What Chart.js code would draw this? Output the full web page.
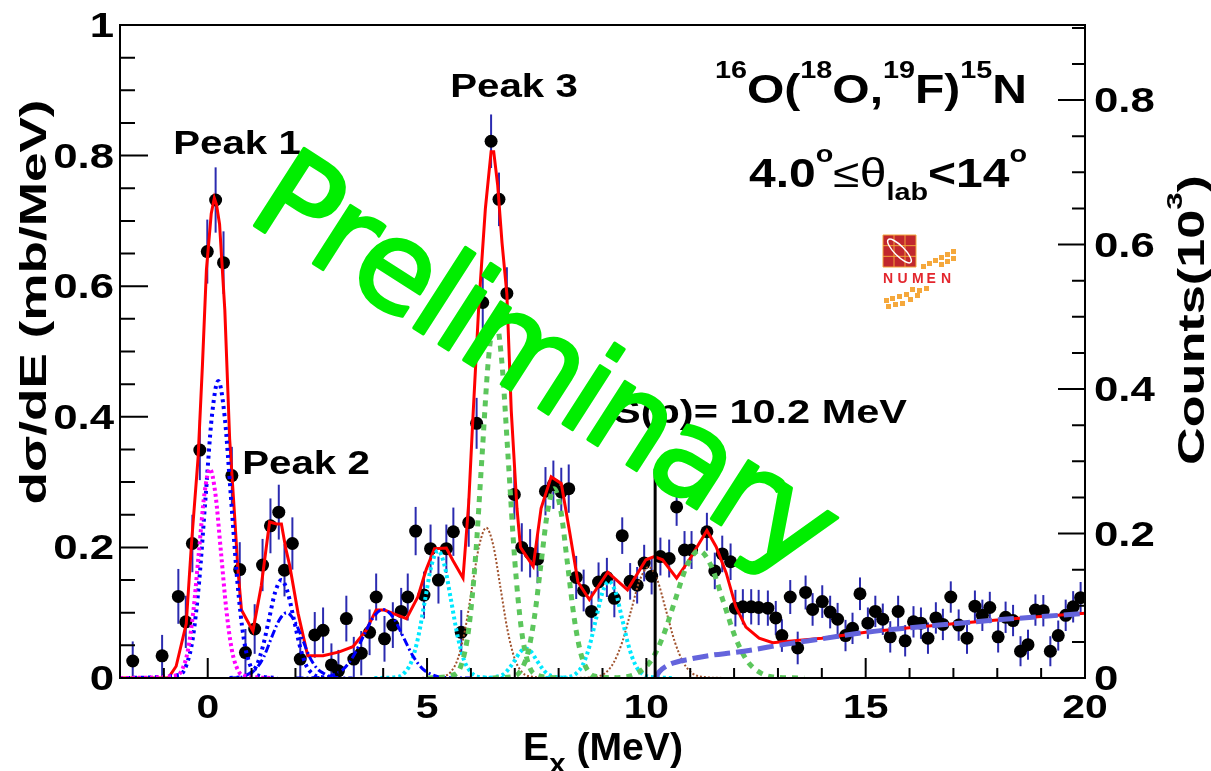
<!DOCTYPE html>
<html>
<head>
<meta charset="utf-8">
<script src="https://cdn.jsdelivr.net/npm/chart.js@4/dist/chart.umd.min.js"></script>
<style>
  html, body { margin: 0; padding: 0; background: #fff; }
  canvas { display: block; }
</style>
</head>
<body>
<canvas id="spectrum" width="1211" height="771"></canvas>
<script>
// ===================================================
// 16O(18O,19F)15N  –  EXCITATION ENERGY SPECTRUM
// ===================================================

// ── Data points (Ex in MeV, dσ/dE in mb/MeV, error) ─
const dataE = [
  -1.71, -1.04, -0.67, -0.50, -0.35, -0.18, -0.01, 0.18, 0.36, 0.55,
  0.73, 0.86, 1.07, 1.25, 1.43, 1.62, 1.75, 1.93, 2.11, 2.44,
  2.63, 2.82, 2.98, 3.16, 3.33, 3.50, 3.69, 3.84, 4.03, 4.22,
  4.41, 4.56, 4.74, 4.93, 5.08, 5.26, 5.44, 5.60, 5.78, 5.95,
  6.13, 6.27, 6.46, 6.64, 6.82, 6.99, 7.16, 7.35, 7.52, 7.70,
  7.88, 8.06, 8.23, 8.40, 8.57, 8.75, 8.91, 9.10, 9.27, 9.45,
  9.63, 9.79, 9.95, 10.12, 10.32, 10.52, 10.69, 10.87, 11.03, 11.38,
  11.56, 11.73, 11.92, 12.03, 12.20, 12.39, 12.56, 12.77, 12.95, 13.09,
  13.28, 13.45, 13.63, 13.79, 14.01, 14.19, 14.36, 14.54, 14.70, 14.87,
  15.05, 15.22, 15.39, 15.56, 15.74, 15.90, 16.09, 16.26, 16.42, 16.60,
  16.76, 16.94, 17.12, 17.31, 17.49, 17.66, 17.83, 18.02, 18.19, 18.36,
  18.53, 18.70, 18.87, 19.05, 19.21, 19.39, 19.56, 19.73, 19.90
];
const dataV = [
  0.026, 0.034, 0.125, 0.086, 0.206, 0.349, 0.653, 0.732, 0.636, 0.310,
  0.166, 0.039, 0.075, 0.173, 0.233, 0.254, 0.165, 0.206, 0.029, 0.066,
  0.073, 0.020, 0.011, 0.091, 0.029, 0.038, 0.070, 0.124, 0.060, 0.081,
  0.102, 0.124, 0.225, 0.127, 0.198, 0.150, 0.198, 0.224, 0.070, 0.238,
  0.390, 0.575, 0.822, 0.733, 0.589, 0.281, 0.200, 0.191, 0.182, 0.286,
  0.296, 0.285, 0.290, 0.154, 0.134, 0.102, 0.147, 0.154, 0.122, 0.218,
  0.148, 0.142, 0.176, 0.156, 0.186, 0.183, 0.262, 0.196, 0.196, 0.224,
  0.164, 0.190, 0.178, 0.107, 0.109, 0.109, 0.108, 0.107, 0.092, 0.065,
  0.124, 0.046, 0.131, 0.105, 0.117, 0.101, 0.090, 0.065, 0.076, 0.129,
  0.084, 0.102, 0.090, 0.063, 0.102, 0.057, 0.086, 0.084, 0.061, 0.092,
  0.082, 0.124, 0.081, 0.061, 0.110, 0.096, 0.108, 0.063, 0.093, 0.088,
  0.041, 0.051, 0.104, 0.103, 0.041, 0.065, 0.096, 0.109, 0.123
];
const dataErr = [
  0.030, 0.032, 0.042, 0.040, 0.044, 0.046, 0.049, 0.050, 0.048, 0.044,
  0.042, 0.036, 0.038, 0.040, 0.042, 0.042, 0.040, 0.040, 0.034, 0.035,
  0.035, 0.033, 0.032, 0.035, 0.034, 0.034, 0.035, 0.036, 0.035, 0.035,
  0.036, 0.036, 0.037, 0.036, 0.037, 0.036, 0.037, 0.037, 0.034, 0.037,
  0.039, 0.040, 0.041, 0.041, 0.040, 0.038, 0.037, 0.037, 0.037, 0.037,
  0.037, 0.037, 0.037, 0.033, 0.032, 0.031, 0.030, 0.030, 0.029, 0.028,
  0.028, 0.028, 0.028, 0.028, 0.029, 0.029, 0.029, 0.029, 0.029, 0.029,
  0.028, 0.028, 0.028, 0.028, 0.027, 0.027, 0.027, 0.027, 0.026, 0.025,
  0.026, 0.025, 0.026, 0.025, 0.025, 0.025, 0.025, 0.024, 0.024, 0.025,
  0.024, 0.024, 0.024, 0.024, 0.024, 0.024, 0.024, 0.024, 0.024, 0.024,
  0.024, 0.024, 0.024, 0.024, 0.024, 0.024, 0.024, 0.024, 0.024, 0.024,
  0.023, 0.023, 0.024, 0.024, 0.023, 0.023, 0.024, 0.024, 0.024
];

// ── Total fit (red) ───────────────────────────────
const fitE = [
  -2, -0.9, -0.72, -0.49, -0.37, -0.22, -0.12, -0.03, 0.08, 0.15,
  0.20, 0.27, 0.39, 0.50, 0.61, 0.69, 0.77, 1.03, 1.22, 1.41,
  1.57, 1.68, 1.78, 1.87, 2.06, 2.28, 2.63, 3.00, 3.31, 3.61,
  3.84, 4.03, 4.22, 4.53, 4.79, 4.98, 5.17, 5.44, 5.59, 5.82,
  5.95, 6.04, 6.18, 6.33, 6.46, 6.52, 6.61, 6.71, 6.82, 6.92,
  7.05, 7.13, 7.42, 7.60, 7.83, 8.06, 8.25, 8.44, 8.70, 9.12,
  9.57, 9.99, 10.18, 10.37, 10.69, 10.98, 11.38, 11.59, 11.82, 12.04,
  12.27, 12.57, 12.88, 13.5, 14, 15, 16, 17, 18, 19, 20
];
const fitV = [
  0, 0, 0.018, 0.083, 0.206, 0.337, 0.480, 0.625, 0.711, 0.735,
  0.725, 0.695, 0.563, 0.366, 0.251, 0.165, 0.104, 0.072, 0.141, 0.239,
  0.236, 0.236, 0.198, 0.172, 0.099, 0.034, 0.034, 0.040, 0.048, 0.073,
  0.104, 0.104, 0.099, 0.091, 0.124, 0.166, 0.198, 0.199, 0.180, 0.153,
  0.268, 0.391, 0.571, 0.719, 0.806, 0.806, 0.755, 0.666, 0.588, 0.409,
  0.260, 0.200, 0.171, 0.260, 0.308, 0.298, 0.224, 0.147, 0.120, 0.162,
  0.135, 0.181, 0.186, 0.181, 0.153, 0.181, 0.226, 0.201, 0.161, 0.109,
  0.078, 0.061, 0.054, 0.058, 0.061, 0.070, 0.077, 0.083, 0.089, 0.094, 0.099
];

// ── Fit components ────────────────────────────────
const magE   = [-2, -0.7, -0.575, -0.45, -0.325, -0.2, -0.075, 0.05, 0.175, 0.3, 0.425, 0.55, 0.675, 0.8, 1.5];
const magV   = [0, 0.004, 0.014, 0.043, 0.104, 0.194, 0.282, 0.32, 0.282, 0.194, 0.104, 0.043, 0.014, 0.004, 0];
const blueAE = [-2, -0.63, -0.485, -0.34, -0.195, -0.05, 0.095, 0.24, 0.385, 0.53, 0.675, 0.82, 0.965, 1.11, 1.6];
const blueAV = [0, 0.005, 0.020, 0.061, 0.148, 0.276, 0.401, 0.455, 0.401, 0.276, 0.148, 0.061, 0.020, 0.005, 0];
const blueBE = [0.5, 0.84, 0.98, 1.12, 1.26, 1.40, 1.54, 1.68, 1.82, 1.96, 2.10, 2.24, 2.38, 2.52, 3.0];
const blueBV = [0, 0.002, 0.007, 0.020, 0.049, 0.091, 0.132, 0.15, 0.132, 0.091, 0.049, 0.020, 0.007, 0.002, 0];
const blueCE = [0.5, 0.75, 0.925, 1.1, 1.275, 1.45, 1.625, 1.8, 1.975, 2.15, 2.325, 2.5, 2.675, 2.85, 3.3];
const blueCV = [0, 0.001, 0.006, 0.014, 0.032, 0.061, 0.088, 0.1, 0.088, 0.061, 0.032, 0.014, 0.006, 0.001, 0];
const blueDE = [2.0, 2.65, 2.875, 3.1, 3.325, 3.55, 3.775, 4.0, 4.225, 4.45, 4.675, 4.9, 5.125, 5.35, 6.0];
const blueDV = [0, 0.001, 0.005, 0.014, 0.034, 0.064, 0.093, 0.105, 0.093, 0.064, 0.034, 0.014, 0.005, 0.001, 0];
const cyanAE = [3.8, 4.35, 4.5, 4.65, 4.8, 4.95, 5.1, 5.25, 5.4, 5.55, 5.7, 5.85, 6.0, 6.15, 6.8];
const cyanAV = [0, 0.002, 0.009, 0.026, 0.063, 0.118, 0.172, 0.195, 0.172, 0.118, 0.063, 0.026, 0.009, 0.002, 0];
const cyanBE = [6.3, 6.5, 6.75, 6.875, 7.0, 7.125, 7.25, 7.375, 7.5, 7.625, 7.75, 8.0, 8.2];
const cyanBV = [0, 0.001, 0.006, 0.015, 0.027, 0.040, 0.045, 0.040, 0.027, 0.015, 0.006, 0.001, 0];
const cyanCE = [7.7, 8.25, 8.4, 8.55, 8.7, 8.85, 9.0, 9.15, 9.3, 9.45, 9.6, 9.75, 9.9, 10.05, 10.6];
const cyanCV = [0, 0.002, 0.007, 0.020, 0.048, 0.090, 0.131, 0.148, 0.131, 0.090, 0.048, 0.020, 0.007, 0.002, 0];
const greenAE = [5.0, 5.65, 5.8, 5.95, 6.1, 6.25, 6.4, 6.55, 6.7, 6.85, 7.0, 7.15, 7.3, 7.45, 8.0];
const greenAV = [0, 0.006, 0.024, 0.075, 0.180, 0.336, 0.488, 0.553, 0.488, 0.336, 0.180, 0.075, 0.024, 0.006, 0];
const greenBE = [6.5, 7.0, 7.15, 7.3, 7.45, 7.6, 7.75, 7.9, 8.05, 8.2, 8.35, 8.5, 8.65, 8.8, 9.3];
const greenBV = [0, 0.003, 0.013, 0.039, 0.094, 0.176, 0.256, 0.29, 0.256, 0.176, 0.094, 0.039, 0.013, 0.003, 0];
const greenCE = [9.0, 9.55, 9.825, 10.1, 10.375, 10.65, 10.925, 11.2, 11.475, 11.75, 12.025, 12.3, 12.575, 12.85, 13.6];
const greenCV = [0, 0.002, 0.009, 0.026, 0.063, 0.118, 0.172, 0.195, 0.172, 0.118, 0.063, 0.026, 0.009, 0.002, 0];
const brownAE = [4.8, 5.39, 5.55, 5.71, 5.87, 6.03, 6.19, 6.35, 6.51, 6.67, 6.83, 6.99, 7.15, 7.31, 7.9];
const brownAV = [0, 0.003, 0.010, 0.031, 0.075, 0.140, 0.203, 0.23, 0.203, 0.140, 0.075, 0.031, 0.010, 0.003, 0];
const brownBE = [8.3, 8.85, 9.05, 9.25, 9.45, 9.65, 9.85, 10.05, 10.25, 10.45, 10.65, 10.85, 11.05, 11.25, 11.8];
const brownBV = [0, 0.002, 0.007, 0.023, 0.055, 0.103, 0.150, 0.17, 0.150, 0.103, 0.055, 0.023, 0.007, 0.002, 0];

// ── Three-body background above S(p) ──────────────
const bkgE = [10.2, 10.3, 10.5, 11, 11.5, 12, 12.5, 13, 14, 15, 16, 17, 18, 19, 20];
const bkgV = [0, 0.010, 0.020, 0.029, 0.035, 0.039, 0.044, 0.050, 0.060, 0.070, 0.077, 0.083, 0.089, 0.094, 0.099];

// ── Proton separation energy marker ───────────────
const spE = [10.2, 10.2];
const spV = [0, 0.32];

// ── Axes / ticks ──────────────────────────────────
const X_MIN = -2, X_MAX = 20;
const Y_MAX = 1;
const Y2_MAX = 0.904;              // counts (10^3) at the top of the frame
const xMajor = [0, 5, 10, 15, 20];
const xLabels = ['0', '5', '10', '15', '20'];
const yMajor = [0, 0.2, 0.4, 0.6, 0.8, 1];
const yLabels = ['0', '0.2', '0.4', '0.6', '0.8', '1'];
const y2Major = [0, 0.2, 0.4, 0.6, 0.8];
const y2Labels = ['0', '0.2', '0.4', '0.6', '0.8'];

const COLORS = {
  fit:     '#ff0000',
  magenta: '#ff00ff',
  blue:    '#0000ff',
  cyan:    '#00e8ff',
  green:   '#5cc65c',
  brown:   '#a0522d',
  bkg:     '#6464dc',
  err:     '#2b2bb0',
  prelim:  '#00ee00',
};
const FONT = '"Liberation Sans", Arial, Helvetica, sans-serif';

const pts = (xs, ys) => xs.map((x, i) => ({ x, y: ys[i] }));

function curve(label, xs, ys, color, width, dash, order, smooth) {
  return {
    label,
    data: pts(xs, ys),
    showLine: true,
    borderColor: color,
    backgroundColor: color,
    borderWidth: width,
    borderDash: dash,
    pointRadius: 0,
    fill: false,
    order,
    tension: smooth ? 0.4 : 0,
    cubicInterpolationMode: smooth ? 'monotone' : 'default',
  };
}

// ── Rich text helper (ROOT-like TLatex) ───────────
function richText(ctx, segs, x, y, size, opts) {
  const o = Object.assign({ align: 'left', sx: 1.22, rot: 0, fit: null }, opts || {});
  ctx.save();
  let w = 0;
  const items = segs.map(([t, k, f]) => {
    let fs = size, dy = 0, weight = 'bold ';
    if (k === 'sup') { fs = size * (f || 0.6); dy = -size * 0.62; }
    if (k === 'sub') { fs = size * (f || 0.6); dy = size * 0.33; }
    if (k === 'r') weight = '';
    const font = weight + fs + 'px ' + FONT;
    ctx.font = font;
    const it = { t, font, dy, off: w };
    w += ctx.measureText(t).width;
    return it;
  });
  const sx = o.fit ? o.fit / w : o.sx;
  const total = w * sx;
  const x0 = o.align === 'right' ? -total : o.align === 'center' ? -total / 2 : 0;
  ctx.translate(x, y);
  ctx.rotate(o.rot);
  ctx.translate(x0, 0);
  ctx.scale(sx, 1);
  ctx.fillStyle = '#000';
  ctx.textAlign = 'left';
  ctx.textBaseline = 'alphabetic';
  items.forEach(it => { ctx.font = it.font; ctx.fillText(it.t, it.off, it.dy); });
  ctx.restore();
}

// ── Error bars under the points ───────────────────
const errorBars = {
  id: 'errorBars',
  beforeDatasetsDraw(chart) {
    const { ctx, chartArea: a, scales: { x, y } } = chart;
    ctx.save();
    ctx.beginPath();
    ctx.rect(a.left, a.top, a.right - a.left, a.bottom - a.top);
    ctx.clip();
    ctx.strokeStyle = COLORS.err;
    ctx.lineWidth = 2;
    dataE.forEach((e, i) => {
      const px = x.getPixelForValue(e);
      ctx.beginPath();
      ctx.moveTo(px, y.getPixelForValue(Math.max(0, dataV[i] - dataErr[i])));
      ctx.lineTo(px, y.getPixelForValue(dataV[i] + dataErr[i]));
      ctx.stroke();
    });
    ctx.restore();
  }
};

// ── "Preliminary" watermark, drawn letter by letter ─
function drawPreliminary(ctx) {
  const word = 'Preliminary';
  const length = 665;                 // baseline length, px
  ctx.save();
  ctx.translate(244, 219);
  ctx.rotate(0.57);
  ctx.font = 'normal 400 126px "DejaVu Sans"';
  const widths = [...word].map(c => ctx.measureText(c).width);
  const natural = widths.reduce((s, v) => s + v, 0);
  const gap = (length - natural) / (word.length - 1);
  ctx.fillStyle = COLORS.prelim;
  ctx.strokeStyle = COLORS.prelim;
  ctx.lineWidth = 3;
  ctx.lineJoin = 'round';
  ctx.lineCap = 'round';
  let px = 0;
  [...word].forEach((c, i) => {
    ctx.strokeText(c, px, 0);
    ctx.fillText(c, px, 0);
    px += widths[i] + gap;
  });
  ctx.restore();
}

// ── ROOT style frame, inward ticks, labels ────────
const rootFrame = {
  id: 'rootFrame',
  afterDatasetsDraw(chart) {
    const { ctx, chartArea: a, scales: { x, y, y2 } } = chart;
    ctx.save();
    ctx.strokeStyle = '#000';
    ctx.lineWidth = 2;
    ctx.strokeRect(a.left, a.top, a.right - a.left, a.bottom - a.top);

    ctx.beginPath();
    // x ticks: every MeV, long at multiples of 5
    for (let v = X_MIN; v <= X_MAX; v += 1) {
      const px = x.getPixelForValue(v);
      const len = v % 5 === 0 ? 20 : 10;
      ctx.moveTo(px, a.bottom);
      ctx.lineTo(px, a.bottom - len);
    }
    // left y ticks: every 0.05, long every 0.2
    for (let i = 0; i <= 20; i++) {
      const py = y.getPixelForValue(i * 0.05);
      const len = i % 4 === 0 ? 28 : 15;
      ctx.moveTo(a.left, py);
      ctx.lineTo(a.left + len, py);
    }
    // right axis (counts): every 0.05, long every 0.2
    for (let i = 0; i * 0.05 <= Y2_MAX; i++) {
      const py = y2.getPixelForValue(i * 0.05);
      const len = i % 4 === 0 ? 27 : 13;
      ctx.moveTo(a.right, py);
      ctx.lineTo(a.right - len, py);
    }
    ctx.stroke();
    ctx.restore();
  },
  afterDraw(chart) {
    const { ctx, scales: { x, y, y2 } } = chart;

    // tick labels
    xMajor.forEach((v, i) =>
      richText(ctx, [[xLabels[i], 'b']], x.getPixelForValue(v), 718, 34, { align: 'center', sx: 1.2 }));
    yMajor.forEach((v, i) =>
      richText(ctx, [[yLabels[i], 'b']], 114, y.getPixelForValue(v) + 12, 35, { align: 'right', sx: 1.25 }));
    y2Major.forEach((v, i) =>
      richText(ctx, [[y2Labels[i], 'b']], 1094, y2.getPixelForValue(v) + 12, 35, { align: 'left', sx: 1.25 }));

    // axis titles
    richText(ctx, [['E', 'b'], ['x', 'sub', 0.75], [' (MeV)', 'b']], 603, 760, 38, { align: 'center', sx: 1.03 });
    richText(ctx, [['d\u03c3/dE (mb/MeV)', 'b']], 46, 302, 36, { align: 'center', rot: -Math.PI / 2, fit: 405 });
    richText(ctx, [['Counts(10', 'b'], ['3', 'sup'], [')', 'b']], 1204, 320, 36, { align: 'center', rot: -Math.PI / 2, fit: 290 });

    // peak labels
    richText(ctx, [['Peak 1', 'b']], 237, 154, 33, { align: 'center' });
    richText(ctx, [['Peak 2', 'b']], 306, 474, 33, { align: 'center' });
    richText(ctx, [['Peak 3', 'b']], 514, 97, 33, { align: 'center' });
    richText(ctx, [['S(p)= 10.2 MeV', 'b']], 760, 423, 34, { align: 'center' });

    // reaction and angular range
    richText(ctx, [['16', 'sup'], ['O(', 'b'], ['18', 'sup'], ['O,', 'b'], ['19', 'sup'], ['F)', 'b'], ['15', 'sup'], ['N', 'b']],
      1027, 103, 40, { align: 'right', sx: 1.2 });
    richText(ctx, [['4.0', 'b'], ['o', 'sup'], ['\u2264\u03b8', 'r'], ['lab', 'sub'], ['<14', 'b'], ['o', 'sup']],
      1027, 187, 40, { align: 'right', sx: 1.2 });

    drawLogo(ctx, 883, 235);
    drawPreliminary(ctx);
  }
};

// ── NUMEN logo ────────────────────────────────────
function drawLogo(ctx, x0, y0) {
  ctx.save();
  ctx.fillStyle = '#c1272d';
  ctx.fillRect(x0, y0, 33, 32);
  ctx.strokeStyle = '#f3a43a';
  ctx.lineWidth = 1;
  ctx.beginPath();
  for (let i = 0; i <= 3; i++) {
    ctx.moveTo(x0 + i * 11, y0); ctx.lineTo(x0 + i * 11, y0 + 32);
    ctx.moveTo(x0, y0 + i * 10.67); ctx.lineTo(x0 + 33, y0 + i * 10.67);
  }
  ctx.stroke();
  ctx.strokeStyle = '#fff';
  ctx.lineWidth = 1.5;
  ctx.beginPath();
  ctx.ellipse(x0 + 16.5, y0 + 16, 16, 5, Math.PI / 4, 0, Math.PI * 2);
  ctx.stroke();
  ctx.fillStyle = '#e3262d';
  ctx.font = 'bold 14px ' + FONT;
  ctx.textBaseline = 'alphabetic';
  const letters = 'NUMEN';
  for (let i = 0; i < letters.length; i++) ctx.fillText(letters[i], x0 + i * 14.5, y0 + 48);
  ctx.fillStyle = '#f5a83c';
  const sq = [
    [951, 249], [951, 256], [945, 252], [945, 259], [939, 255], [939, 262], [933, 258], [927, 261], [921, 264],
    [924, 286], [917, 288], [910, 287], [904, 292], [897, 294], [890, 296], [884, 298], [886, 304], [893, 302],
    [900, 301], [908, 297], [915, 293]
  ];
  sq.forEach(([sx, sy]) => ctx.fillRect(sx, sy, 5, 5));
  ctx.restore();
}

// ── Chart ─────────────────────────────────────────
new Chart(document.getElementById('spectrum'), {
  type: 'scatter',
  data: {
    datasets: [
      {
        label: 'Data',
        data: pts(dataE, dataV),
        pointRadius: 6.5,
        pointBackgroundColor: '#000',
        pointBorderWidth: 0,
        order: 100,
      },
      curve('Total fit', fitE, fitV, COLORS.fit, 3, [], 60, false),
      curve('Comp 1a', magE, magV, COLORS.magenta, 4, [3, 3], 40, true),
      curve('Comp 1b', blueAE, blueAV, COLORS.blue, 4, [3, 4], 40, true),
      curve('Comp 2a', blueBE, blueBV, COLORS.blue, 4, [3, 4], 40, true),
      curve('Comp 2b', blueCE, blueCV, COLORS.blue, 3, [8, 3, 2, 3], 40, true),
      curve('Comp 4.0', blueDE, blueDV, COLORS.blue, 3, [8, 3, 2, 3], 40, true),
      curve('Comp 5.3', cyanAE, cyanAV, COLORS.cyan, 4, [3, 3], 40, true),
      curve('Comp 7.3', cyanBE, cyanBV, COLORS.cyan, 4, [3, 3], 40, true),
      curve('Comp 9.2', cyanCE, cyanCV, COLORS.cyan, 4, [3, 3], 40, true),
      curve('Comp 6.4', brownAE, brownAV, COLORS.brown, 2, [2, 2], 40, true),
      curve('Comp 10.1', brownBE, brownBV, COLORS.brown, 2, [2, 2], 40, true),
      curve('Comp 6.6', greenAE, greenAV, COLORS.green, 5, [6, 6], 35, true),
      curve('Comp 7.9', greenBE, greenBV, COLORS.green, 5, [6, 6], 35, true),
      curve('Comp 11.2', greenCE, greenCV, COLORS.green, 5, [6, 6], 35, true),
      curve('Background', bkgE, bkgV, COLORS.bkg, 5, [16, 6], 30, true),
      curve('S(p)', spE, spV, '#000', 3, [], 5, false),
    ]
  },
  options: {
    responsive: false,
    animation: false,
    devicePixelRatio: 1,
    layout: { padding: { top: 25, left: 0, right: 0, bottom: 0 } },
    plugins: { legend: { display: false }, tooltip: { enabled: false } },
    scales: {
      x: {
        type: 'linear', min: X_MIN, max: X_MAX,
        ticks: { display: false },
        grid: { display: false, drawTicks: false },
        border: { display: false },
        afterFit: s => { s.height = 93; },
      },
      y: {
        position: 'left', min: 0, max: Y_MAX,
        ticks: { display: false },
        grid: { display: false, drawTicks: false },
        border: { display: false },
        afterFit: s => { s.width = 120; },
      },
      y2: {
        type: 'linear', position: 'right', min: 0, max: Y2_MAX,
        ticks: { display: false },
        grid: { display: false, drawTicks: false },
        border: { display: false },
        afterFit: s => { s.width = 126; },
      }
    }
  },
  plugins: [errorBars, rootFrame]
});
</script>
</body>
</html>
